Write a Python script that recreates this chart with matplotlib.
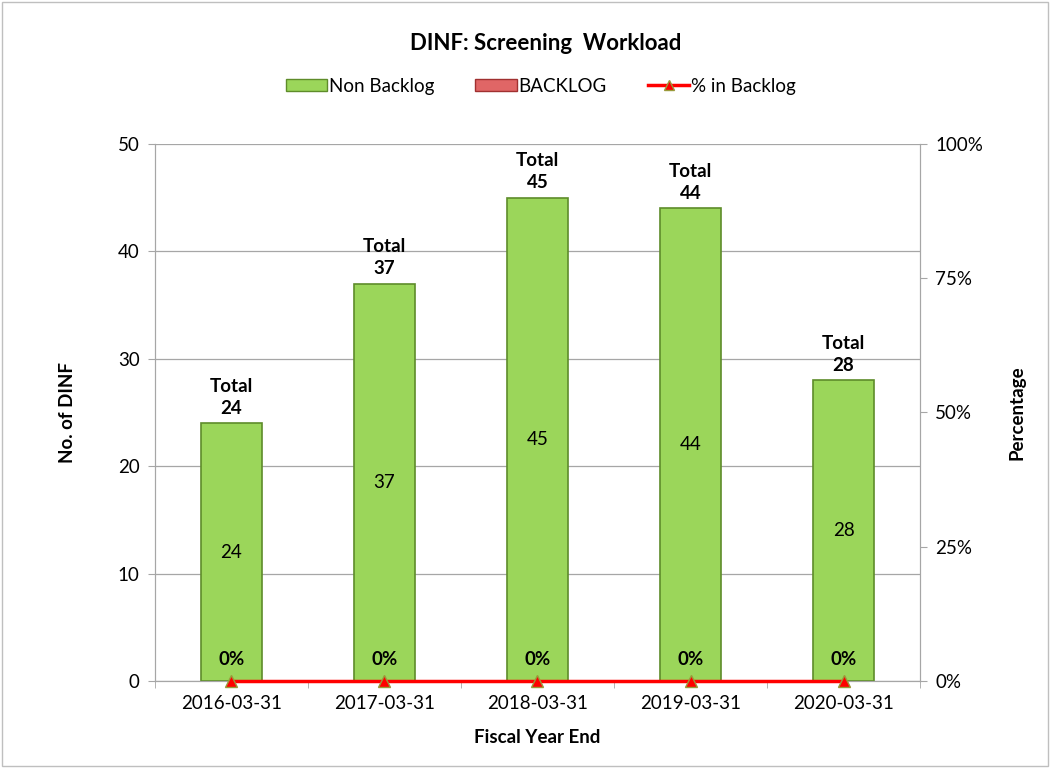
import numpy as np
import matplotlib
matplotlib.use("Agg")
import matplotlib.pyplot as plt
from matplotlib.patches import Rectangle
from matplotlib.lines import Line2D

plt.rcParams['font.family'] = ['Lato', 'DejaVu Sans']

# --- data ---
years = ["2016-03-31", "2017-03-31", "2018-03-31", "2019-03-31", "2020-03-31"]
non_backlog = [24, 37, 45, 44, 28]
backlog = [0, 0, 0, 0, 0]
pct_backlog = [0, 0, 0, 0, 0]

GREEN = "#9BD65A"
GREEN_EDGE = "#5E8C2A"
RED = "#FF0000"
GRID = "#A6A6A6"

fig = plt.figure(figsize=(10.5, 7.68), dpi=100)
fig.patches.append(Rectangle((0.002, 0.002), 0.996, 0.996, transform=fig.transFigure,
                             fill=False, edgecolor="#BFBFBF", linewidth=1))
ax = fig.add_axes([0.1476, 0.1133, 0.7286, 0.6992])
ax2 = ax.twinx()

x = np.arange(len(years))
totals = [a + b for a, b in zip(non_backlog, backlog)]
ax.bar(x, non_backlog, width=0.4, color=GREEN, edgecolor=GREEN_EDGE, linewidth=1.2, zorder=3)
ax.bar(x, backlog, width=0.4, bottom=non_backlog, color="#E06666", linewidth=0, zorder=3)

for xi, v, t in zip(x, non_backlog, totals):
    ax.text(xi, v / 2, f"{v}", ha="center", va="center", fontsize=13.5, zorder=5)
    ax.text(xi, t + 0.6, f"Total\n{t}", ha="center", va="bottom", fontsize=13.5,
            fontweight="bold", linespacing=1.35, zorder=5)

ax.set_xlim(-0.5, len(years) - 0.5)
ax.set_ylim(0, 50)
ax.set_yticks(range(0, 51, 10))
ax.yaxis.grid(True, color=GRID, linewidth=0.9)
ax.set_axisbelow(True)
ax.set_xticks(x)
ax.set_xticklabels(years, fontsize=13.5)
ax.set_xticks(np.arange(-0.5, len(years), 1), minor=True)
ax.tick_params(axis="x", which="major", length=0, pad=10)
ax.tick_params(axis="x", which="minor", length=5, color=GRID)
ax.tick_params(axis="y", labelsize=13.5, length=5, color=GRID, pad=6)
ax.set_ylabel("No. of DINF", fontsize=13.5, fontweight="bold", labelpad=30)
ax.set_xlabel("Fiscal Year End", fontsize=13.5, fontweight="bold", labelpad=12)

ax2.plot(x, pct_backlog, color=RED, linewidth=2.5, marker="^", markersize=8,
         markerfacecolor=RED, markeredgecolor="#9A9A3A", zorder=6, clip_on=False)
for xi, p in zip(x, pct_backlog):
    ax2.text(xi, p + 0.025, f"{p}%", ha="center", va="bottom", fontsize=13.5,
             fontweight="bold", zorder=7)
ax2.set_ylim(0, 1)
ax2.set_yticks([0, 0.25, 0.5, 0.75, 1.0])
ax2.set_yticklabels(["0%", "25%", "50%", "75%", "100%"])
ax2.tick_params(axis="y", labelsize=13.5, length=5, color=GRID, pad=6)
ax2.set_ylabel("Percentage", fontsize=13.5, fontweight="bold", labelpad=18)

for a in (ax, ax2):
    for s in a.spines.values():
        s.set_visible(False)
    a.spines["left"].set_visible(True)
    a.spines["right"].set_visible(True)
    a.spines["bottom"].set_visible(True)
    a.spines["left"].set_color(GRID)
    a.spines["right"].set_color(GRID)
    a.spines["bottom"].set_color(GRID)

fig.text(0.52, 0.943, "DINF: Screening  Workload", ha="center", va="center",
         fontsize=16, fontweight="bold")

handles = [
    Rectangle((0, 0), 1, 1, facecolor=GREEN, edgecolor=GREEN_EDGE),
    Rectangle((0, 0), 1, 1, facecolor="#E06666", edgecolor="#A03030"),
    Line2D([0], [0], color=RED, linewidth=2.5, marker="^", markersize=7,
           markerfacecolor=RED, markeredgecolor="#9A9A3A"),
]
fig.legend(handles, ["Non Backlog", "BACKLOG", "% in Backlog"], loc="center",
           bbox_to_anchor=(0.515, 0.888), ncol=3, frameon=False, fontsize=13.5,
           handlelength=2.2, handleheight=0.6, handletextpad=0.1, columnspacing=2.2)

fig.savefig("out.png", dpi=100, facecolor="white")
